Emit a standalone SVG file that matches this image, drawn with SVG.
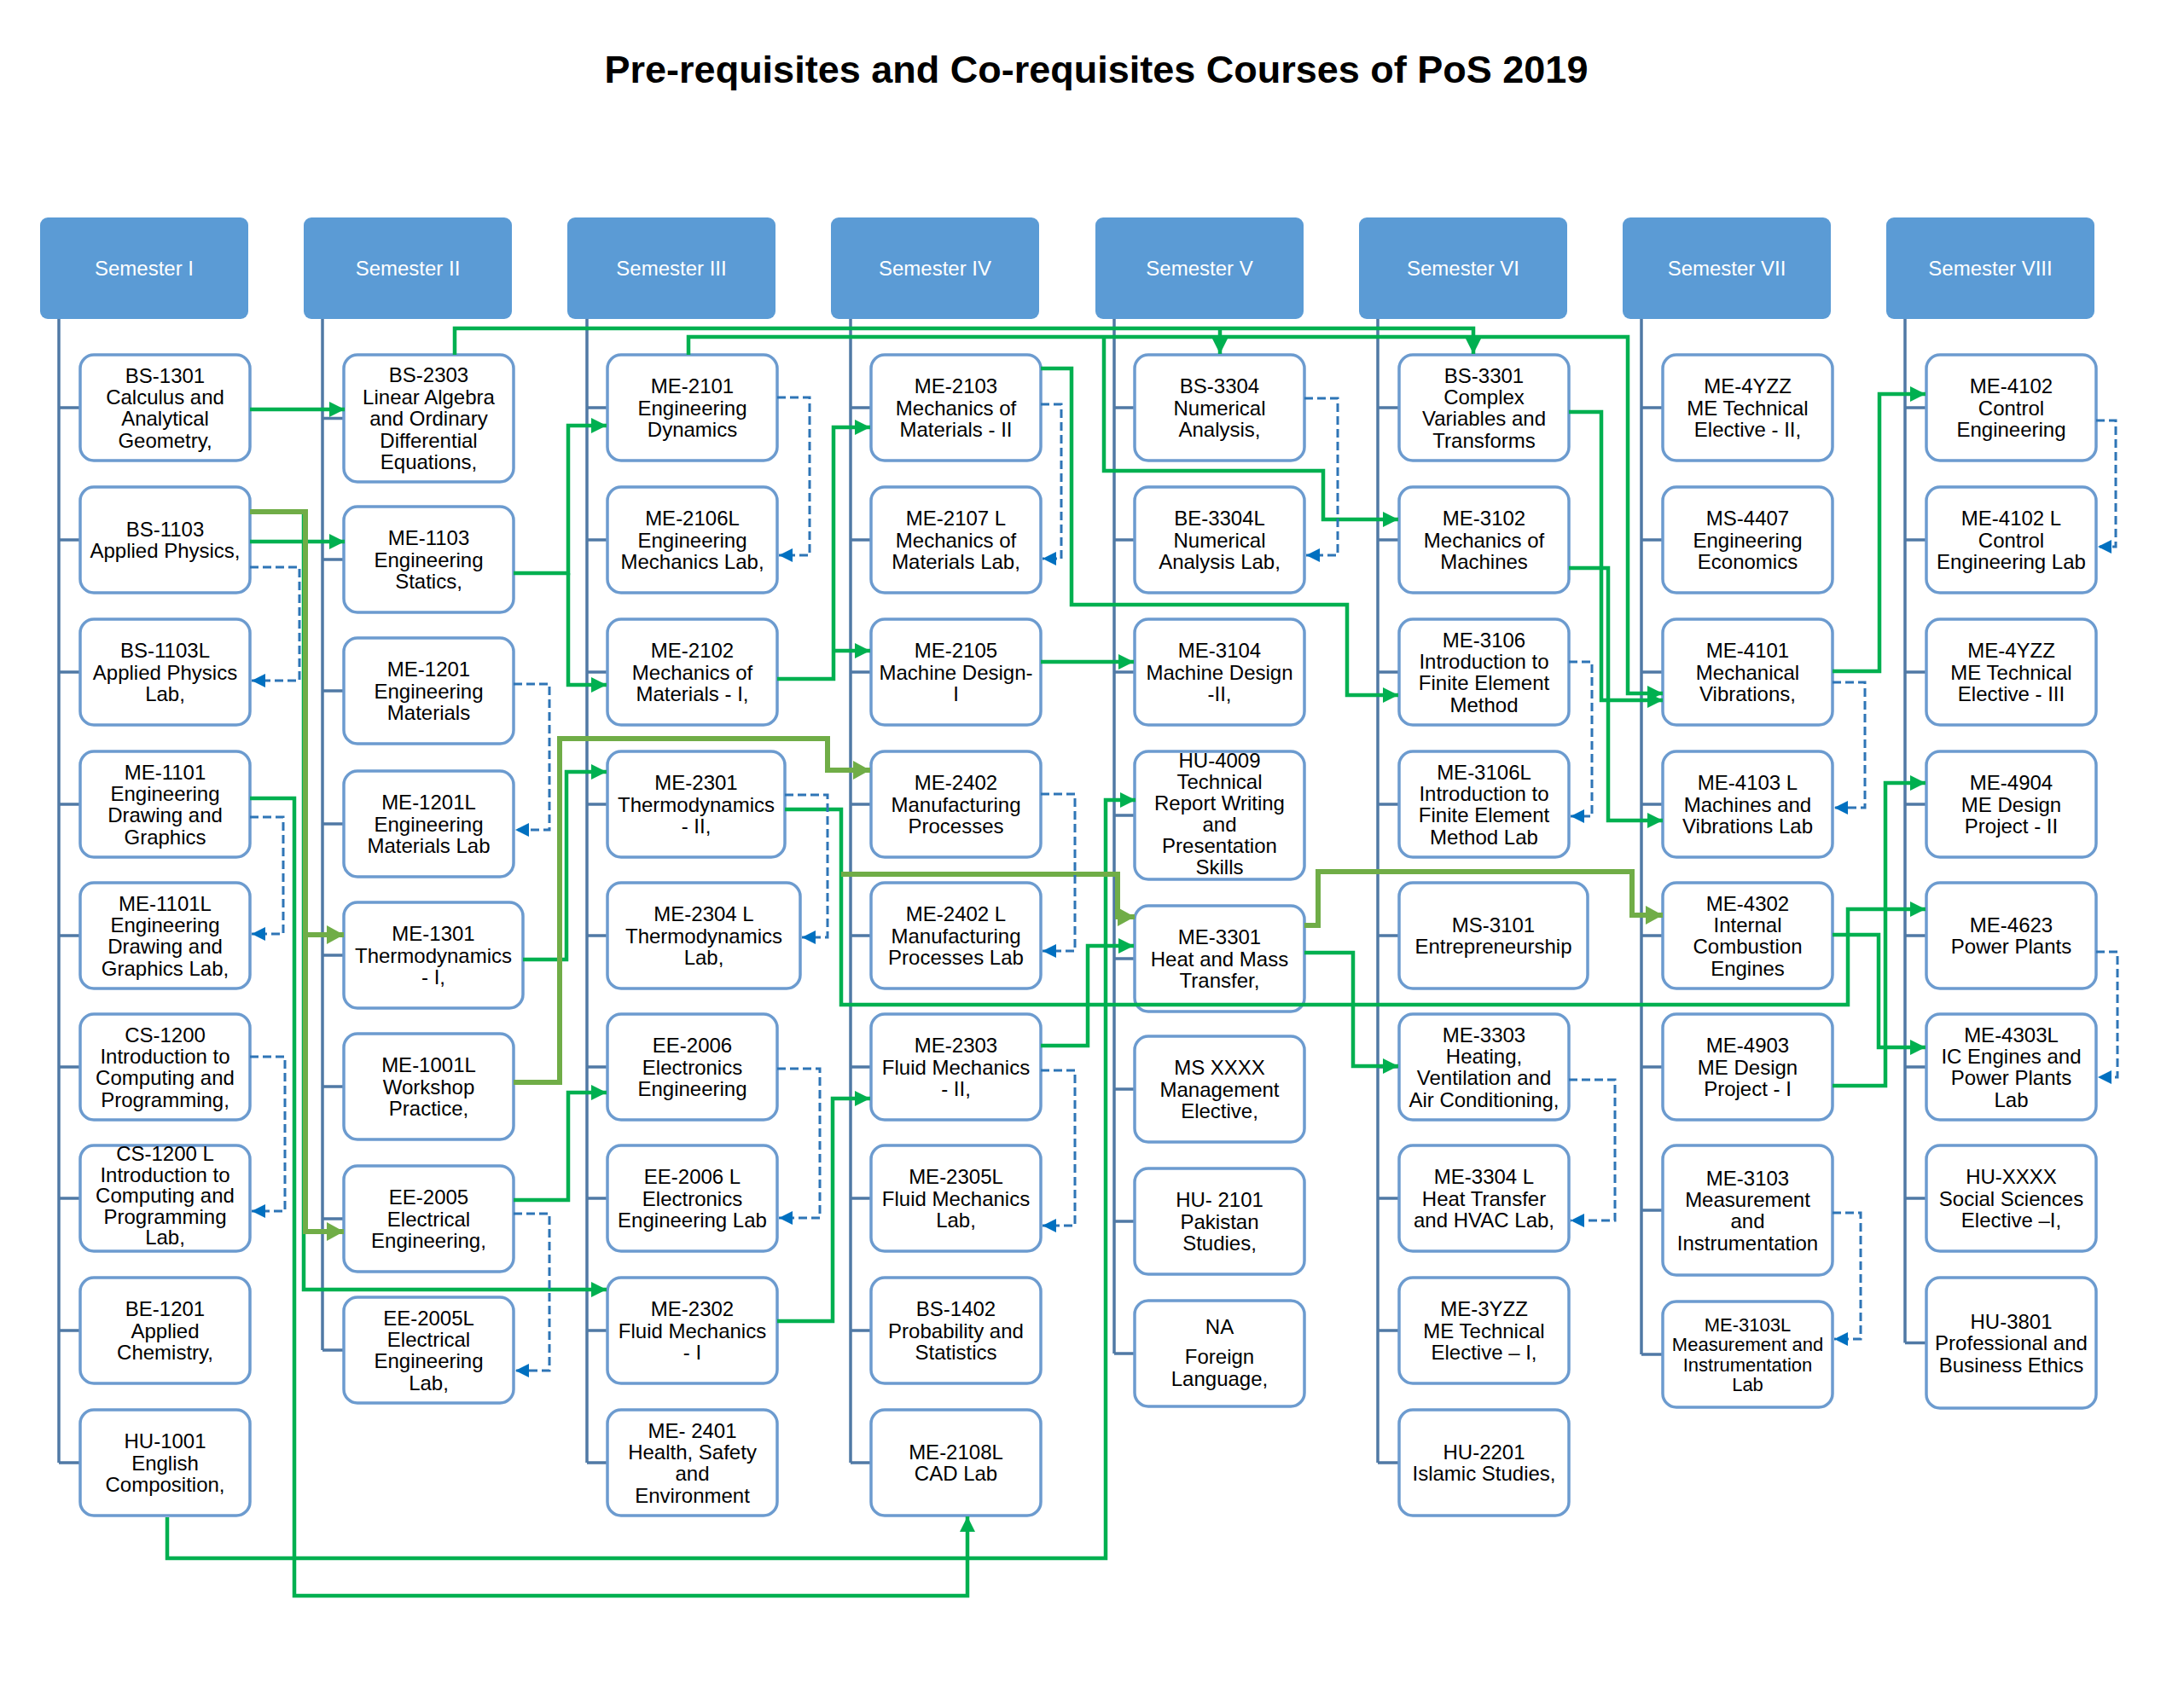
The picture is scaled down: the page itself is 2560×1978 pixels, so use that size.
<svg xmlns="http://www.w3.org/2000/svg" width="2560" height="1978" viewBox="0 0 2560 1978">
<style>
.bg{fill:#fff}
.title{font-family:"Liberation Sans",Arial,sans-serif;font-size:45px;font-weight:bold;fill:#000;text-anchor:middle}
.hdr rect{fill:#5B9BD5}
.hdr text{font-family:"Liberation Sans",Arial,sans-serif;font-size:24px;fill:#fff;text-anchor:middle}
.node rect{fill:#fff;stroke:#6C9BCF;stroke-width:3.5}
.node text{font-family:"Liberation Sans",Arial,sans-serif;font-size:24px;fill:#000;text-anchor:middle}
.node text.sm{font-size:22px}
.spine{stroke:#5079A5;stroke-width:3.5;fill:none}
.g{stroke:#00B050;stroke-width:4.5;fill:none}
.ga{stroke:#00B050;stroke-width:4.5;fill:none;marker-end:url(#ag)}
.o{stroke:#70AD47;stroke-width:6;fill:none}
.oa{stroke:#70AD47;stroke-width:6;fill:none;marker-end:url(#ao)}
.d{stroke:#2E75B6;stroke-width:3;stroke-dasharray:10 5;fill:none;marker-end:url(#ab)}
</style>
<defs>
<marker id="ag" markerUnits="userSpaceOnUse" markerWidth="20" markerHeight="20" refX="18" refY="9" orient="auto"><path d="M0,0 L18,9 L0,18 z" fill="#00B050"/></marker>
<marker id="ao" markerUnits="userSpaceOnUse" markerWidth="24" markerHeight="24" refX="20" refY="11" orient="auto"><path d="M0,0 L20,11 L0,22 z" fill="#70AD47"/></marker>
<marker id="ab" markerUnits="userSpaceOnUse" markerWidth="18" markerHeight="18" refX="16" refY="8" orient="auto"><path d="M0,0 L16,8 L0,16 z" fill="#0070C0"/></marker>
</defs>
<rect class="bg" x="0" y="0" width="2560" height="1978"/>
<text class="title" x="1285" y="97">Pre-requisites and Co-requisites Courses of PoS 2019</text>

<g id="headers">
<g id="h-sem1" class="hdr"><rect x="47" y="255" width="244" height="119" rx="9"/><text x="169" y="323">Semester I</text></g>
<g id="h-sem2" class="hdr"><rect x="356" y="255" width="244" height="119" rx="9"/><text x="478" y="323">Semester II</text></g>
<g id="h-sem3" class="hdr"><rect x="665" y="255" width="244" height="119" rx="9"/><text x="787" y="323">Semester III</text></g>
<g id="h-sem4" class="hdr"><rect x="974" y="255" width="244" height="119" rx="9"/><text x="1096" y="323">Semester IV</text></g>
<g id="h-sem5" class="hdr"><rect x="1284" y="255" width="244" height="119" rx="9"/><text x="1406" y="323">Semester V</text></g>
<g id="h-sem6" class="hdr"><rect x="1593" y="255" width="244" height="119" rx="9"/><text x="1715" y="323">Semester VI</text></g>
<g id="h-sem7" class="hdr"><rect x="1902" y="255" width="244" height="119" rx="9"/><text x="2024" y="323">Semester VII</text></g>
<g id="h-sem8" class="hdr"><rect x="2211" y="255" width="244" height="119" rx="9"/><text x="2333" y="323">Semester VIII</text></g>
</g>

<g id="spines">
<path class="spine" d="M69,374 V1715 M69,478 H94 M69,633 H94 M69,788 H94 M69,943 H94 M69,1097 H94 M69,1251 H94 M69,1405 H94 M69,1560 H94 M69,1715 H94"/>
<path class="spine" d="M378,374 V1583 M378,490.5 H403 M378,656 H403 M378,810 H403 M378,966 H403 M378,1120 H403 M378,1274 H403 M378,1429 H403 M378,1583 H403"/>
<path class="spine" d="M688,374 V1715 M688,478 H712 M688,633 H712 M688,788 H712 M688,943 H712 M688,1097 H712 M688,1251 H712 M688,1405 H712 M688,1560 H712 M688,1715 H712"/>
<path class="spine" d="M997,374 V1715 M997,478 H1021 M997,633 H1021 M997,788 H1021 M997,943 H1021 M997,1097 H1021 M997,1251 H1021 M997,1405 H1021 M997,1560 H1021 M997,1715 H1021"/>
<path class="spine" d="M1306,374 V1587 M1306,478 H1330 M1306,633 H1330 M1306,788 H1330 M1306,956 H1330 M1306,1124 H1330 M1306,1277 H1330 M1306,1432 H1330 M1306,1587 H1330"/>
<path class="spine" d="M1615,374 V1715 M1615,478 H1640 M1615,633 H1640 M1615,788 H1640 M1615,943 H1640 M1615,1097 H1640 M1615,1251 H1640 M1615,1405 H1640 M1615,1560 H1640 M1615,1715 H1640"/>
<path class="spine" d="M1924,374 V1588 M1924,478 H1949 M1924,633 H1949 M1924,788 H1949 M1924,943 H1949 M1924,1097 H1949 M1924,1251 H1949 M1924,1419 H1949 M1924,1588 H1949"/>
<path class="spine" d="M2233,374 V1574.5 M2233,478 H2258 M2233,633 H2258 M2233,788 H2258 M2233,943 H2258 M2233,1097 H2258 M2233,1251 H2258 M2233,1405 H2258 M2233,1574.5 H2258"/>
</g>

<g id="nodes">
<!-- Semester I -->
<g id="n-bs1301" class="node"><rect x="94" y="416" width="199" height="124" rx="16"/><text x="193.5" y="448.5"><tspan x="193.5">BS-1301</tspan><tspan x="193.5" dy="25.4">Calculus and</tspan><tspan x="193.5" dy="25.4">Analytical</tspan><tspan x="193.5" dy="25.4">Geometry,</tspan></text></g>
<g id="n-bs1103" class="node"><rect x="94" y="571" width="199" height="124" rx="16"/><text x="193.5" y="628.9"><tspan x="193.5">BS-1103</tspan><tspan x="193.5" dy="25.4">Applied Physics,</tspan></text></g>
<g id="n-bs1103l" class="node"><rect x="94" y="726" width="199" height="124" rx="16"/><text x="193.5" y="771.2"><tspan x="193.5">BS-1103L</tspan><tspan x="193.5" dy="25.4">Applied Physics</tspan><tspan x="193.5" dy="25.4">Lab,</tspan></text></g>
<g id="n-me1101" class="node"><rect x="94" y="881" width="199" height="124" rx="16"/><text x="193.5" y="913.5"><tspan x="193.5">ME-1101</tspan><tspan x="193.5" dy="25.4">Engineering</tspan><tspan x="193.5" dy="25.4">Drawing and</tspan><tspan x="193.5" dy="25.4">Graphics</tspan></text></g>
<g id="n-me1101l" class="node"><rect x="94" y="1035" width="199" height="124" rx="16"/><text x="193.5" y="1067.5"><tspan x="193.5">ME-1101L</tspan><tspan x="193.5" dy="25.4">Engineering</tspan><tspan x="193.5" dy="25.4">Drawing and</tspan><tspan x="193.5" dy="25.4">Graphics Lab,</tspan></text></g>
<g id="n-cs1200" class="node"><rect x="94" y="1189" width="199" height="124" rx="16"/><text x="193.5" y="1221.5"><tspan x="193.5">CS-1200</tspan><tspan x="193.5" dy="25.4">Introduction to</tspan><tspan x="193.5" dy="25.4">Computing and</tspan><tspan x="193.5" dy="25.4">Programming,</tspan></text></g>
<g id="n-cs1200l" class="node"><rect x="94" y="1343" width="199" height="124" rx="16"/><text x="193.5" y="1361"><tspan x="193.5">CS-1200 L</tspan><tspan x="193.5" dy="24.6">Introduction to</tspan><tspan x="193.5" dy="24.6">Computing and</tspan><tspan x="193.5" dy="24.6">Programming</tspan><tspan x="193.5" dy="24.6">Lab,</tspan></text></g>
<g id="n-be1201" class="node"><rect x="94" y="1498" width="199" height="124" rx="16"/><text x="193.5" y="1543.2"><tspan x="193.5">BE-1201</tspan><tspan x="193.5" dy="25.4">Applied</tspan><tspan x="193.5" dy="25.4">Chemistry,</tspan></text></g>
<g id="n-hu1001" class="node"><rect x="94" y="1653" width="199" height="124" rx="16"/><text x="193.5" y="1698.2"><tspan x="193.5">HU-1001</tspan><tspan x="193.5" dy="25.4">English</tspan><tspan x="193.5" dy="25.4">Composition,</tspan></text></g>
<!-- Semester II -->
<g id="n-bs2303" class="node"><rect x="403" y="416" width="199" height="149" rx="16"/><text x="502.5" y="448.3"><tspan x="502.5">BS-2303</tspan><tspan x="502.5" dy="25.4">Linear Algebra</tspan><tspan x="502.5" dy="25.4">and Ordinary</tspan><tspan x="502.5" dy="25.4">Differential</tspan><tspan x="502.5" dy="25.4">Equations,</tspan></text></g>
<g id="n-me1103" class="node"><rect x="403" y="594" width="199" height="124" rx="16"/><text x="502.5" y="639.2"><tspan x="502.5">ME-1103</tspan><tspan x="502.5" dy="25.4">Engineering</tspan><tspan x="502.5" dy="25.4">Statics,</tspan></text></g>
<g id="n-me1201" class="node"><rect x="403" y="748" width="199" height="124" rx="16"/><text x="502.5" y="793.2"><tspan x="502.5">ME-1201</tspan><tspan x="502.5" dy="25.4">Engineering</tspan><tspan x="502.5" dy="25.4">Materials</tspan></text></g>
<g id="n-me1201l" class="node"><rect x="403" y="904" width="199" height="124" rx="16"/><text x="502.5" y="949.2"><tspan x="502.5">ME-1201L</tspan><tspan x="502.5" dy="25.4">Engineering</tspan><tspan x="502.5" dy="25.4">Materials Lab</tspan></text></g>
<g id="n-me1301" class="node"><rect x="403" y="1058" width="210" height="124" rx="16"/><text x="508" y="1103.2"><tspan x="508">ME-1301</tspan><tspan x="508" dy="25.4">Thermodynamics</tspan><tspan x="508" dy="25.4">- I,</tspan></text></g>
<g id="n-me1001l" class="node"><rect x="403" y="1212" width="199" height="124" rx="16"/><text x="502.5" y="1257.2"><tspan x="502.5">ME-1001L</tspan><tspan x="502.5" dy="25.4">Workshop</tspan><tspan x="502.5" dy="25.4">Practice,</tspan></text></g>
<g id="n-ee2005" class="node"><rect x="403" y="1367" width="199" height="124" rx="16"/><text x="502.5" y="1412.2"><tspan x="502.5">EE-2005</tspan><tspan x="502.5" dy="25.4">Electrical</tspan><tspan x="502.5" dy="25.4">Engineering,</tspan></text></g>
<g id="n-ee2005l" class="node"><rect x="403" y="1521" width="199" height="124" rx="16"/><text x="502.5" y="1553.5"><tspan x="502.5">EE-2005L</tspan><tspan x="502.5" dy="25.4">Electrical</tspan><tspan x="502.5" dy="25.4">Engineering</tspan><tspan x="502.5" dy="25.4">Lab,</tspan></text></g>
<!-- Semester III -->
<g id="n-me2101" class="node"><rect x="712" y="416" width="199" height="124" rx="16"/><text x="811.5" y="461.2"><tspan x="811.5">ME-2101</tspan><tspan x="811.5" dy="25.4">Engineering</tspan><tspan x="811.5" dy="25.4">Dynamics</tspan></text></g>
<g id="n-me2106l" class="node"><rect x="712" y="571" width="199" height="124" rx="16"/><text x="811.5" y="616.2"><tspan x="811.5">ME-2106L</tspan><tspan x="811.5" dy="25.4">Engineering</tspan><tspan x="811.5" dy="25.4">Mechanics Lab,</tspan></text></g>
<g id="n-me2102" class="node"><rect x="712" y="726" width="199" height="124" rx="16"/><text x="811.5" y="771.2"><tspan x="811.5">ME-2102</tspan><tspan x="811.5" dy="25.4">Mechanics of</tspan><tspan x="811.5" dy="25.4">Materials - I,</tspan></text></g>
<g id="n-me2301" class="node"><rect x="712" y="881" width="208" height="124" rx="16"/><text x="816" y="926.2"><tspan x="816">ME-2301</tspan><tspan x="816" dy="25.4">Thermodynamics</tspan><tspan x="816" dy="25.4">- II,</tspan></text></g>
<g id="n-me2304l" class="node"><rect x="712" y="1035" width="226" height="124" rx="16"/><text x="825" y="1080.2"><tspan x="825">ME-2304 L</tspan><tspan x="825" dy="25.4">Thermodynamics</tspan><tspan x="825" dy="25.4">Lab,</tspan></text></g>
<g id="n-ee2006" class="node"><rect x="712" y="1189" width="199" height="124" rx="16"/><text x="811.5" y="1234.2"><tspan x="811.5">EE-2006</tspan><tspan x="811.5" dy="25.4">Electronics</tspan><tspan x="811.5" dy="25.4">Engineering</tspan></text></g>
<g id="n-ee2006l" class="node"><rect x="712" y="1343" width="199" height="124" rx="16"/><text x="811.5" y="1388.2"><tspan x="811.5">EE-2006 L</tspan><tspan x="811.5" dy="25.4">Electronics</tspan><tspan x="811.5" dy="25.4">Engineering Lab</tspan></text></g>
<g id="n-me2302" class="node"><rect x="712" y="1498" width="199" height="124" rx="16"/><text x="811.5" y="1543.2"><tspan x="811.5">ME-2302</tspan><tspan x="811.5" dy="25.4">Fluid Mechanics</tspan><tspan x="811.5" dy="25.4">- I</tspan></text></g>
<g id="n-me2401" class="node"><rect x="712" y="1653" width="199" height="124" rx="16"/><text x="811.5" y="1685.5"><tspan x="811.5">ME- 2401</tspan><tspan x="811.5" dy="25.4">Health, Safety</tspan><tspan x="811.5" dy="25.4">and</tspan><tspan x="811.5" dy="25.4">Environment</tspan></text></g>
<!-- Semester IV -->
<g id="n-me2103" class="node"><rect x="1021" y="416" width="199" height="124" rx="16"/><text x="1120.5" y="461.2"><tspan x="1120.5">ME-2103</tspan><tspan x="1120.5" dy="25.4">Mechanics of</tspan><tspan x="1120.5" dy="25.4">Materials - II</tspan></text></g>
<g id="n-me2107l" class="node"><rect x="1021" y="571" width="199" height="124" rx="16"/><text x="1120.5" y="616.2"><tspan x="1120.5">ME-2107 L</tspan><tspan x="1120.5" dy="25.4">Mechanics of</tspan><tspan x="1120.5" dy="25.4">Materials Lab,</tspan></text></g>
<g id="n-me2105" class="node"><rect x="1021" y="726" width="199" height="124" rx="16"/><text x="1120.5" y="771.2"><tspan x="1120.5">ME-2105</tspan><tspan x="1120.5" dy="25.4">Machine Design-</tspan><tspan x="1120.5" dy="25.4">I</tspan></text></g>
<g id="n-me2402" class="node"><rect x="1021" y="881" width="199" height="124" rx="16"/><text x="1120.5" y="926.2"><tspan x="1120.5">ME-2402</tspan><tspan x="1120.5" dy="25.4">Manufacturing</tspan><tspan x="1120.5" dy="25.4">Processes</tspan></text></g>
<g id="n-me2402l" class="node"><rect x="1021" y="1035" width="199" height="124" rx="16"/><text x="1120.5" y="1080.2"><tspan x="1120.5">ME-2402 L</tspan><tspan x="1120.5" dy="25.4">Manufacturing</tspan><tspan x="1120.5" dy="25.4">Processes Lab</tspan></text></g>
<g id="n-me2303" class="node"><rect x="1021" y="1189" width="199" height="124" rx="16"/><text x="1120.5" y="1234.2"><tspan x="1120.5">ME-2303</tspan><tspan x="1120.5" dy="25.4">Fluid Mechanics</tspan><tspan x="1120.5" dy="25.4">- II,</tspan></text></g>
<g id="n-me2305l" class="node"><rect x="1021" y="1343" width="199" height="124" rx="16"/><text x="1120.5" y="1388.2"><tspan x="1120.5">ME-2305L</tspan><tspan x="1120.5" dy="25.4">Fluid Mechanics</tspan><tspan x="1120.5" dy="25.4">Lab,</tspan></text></g>
<g id="n-bs1402" class="node"><rect x="1021" y="1498" width="199" height="124" rx="16"/><text x="1120.5" y="1543.2"><tspan x="1120.5">BS-1402</tspan><tspan x="1120.5" dy="25.4">Probability and</tspan><tspan x="1120.5" dy="25.4">Statistics</tspan></text></g>
<g id="n-me2108l" class="node"><rect x="1021" y="1653" width="199" height="124" rx="16"/><text x="1120.5" y="1710.9"><tspan x="1120.5">ME-2108L</tspan><tspan x="1120.5" dy="25.4">CAD Lab</tspan></text></g>
<!-- Semester V -->
<g id="n-bs3304" class="node"><rect x="1330" y="416" width="199" height="124" rx="16"/><text x="1429.5" y="461.2"><tspan x="1429.5">BS-3304</tspan><tspan x="1429.5" dy="25.4">Numerical</tspan><tspan x="1429.5" dy="25.4">Analysis,</tspan></text></g>
<g id="n-be3304l" class="node"><rect x="1330" y="571" width="199" height="124" rx="16"/><text x="1429.5" y="616.2"><tspan x="1429.5">BE-3304L</tspan><tspan x="1429.5" dy="25.4">Numerical</tspan><tspan x="1429.5" dy="25.4">Analysis Lab,</tspan></text></g>
<g id="n-me3104" class="node"><rect x="1330" y="726" width="199" height="124" rx="16"/><text x="1429.5" y="771.2"><tspan x="1429.5">ME-3104</tspan><tspan x="1429.5" dy="25.4">Machine Design</tspan><tspan x="1429.5" dy="25.4">-II,</tspan></text></g>
<g id="n-hu4009" class="node"><rect x="1330" y="881" width="199" height="150" rx="16"/><text x="1429.5" y="900"><tspan x="1429.5">HU-4009</tspan><tspan x="1429.5" dy="25">Technical</tspan><tspan x="1429.5" dy="25">Report Writing</tspan><tspan x="1429.5" dy="25">and</tspan><tspan x="1429.5" dy="25">Presentation</tspan><tspan x="1429.5" dy="25">Skills</tspan></text></g>
<g id="n-me3301" class="node"><rect x="1330" y="1062" width="199" height="124" rx="16"/><text x="1429.5" y="1107.2"><tspan x="1429.5">ME-3301</tspan><tspan x="1429.5" dy="25.4">Heat and Mass</tspan><tspan x="1429.5" dy="25.4">Transfer,</tspan></text></g>
<g id="n-msxxxx" class="node"><rect x="1330" y="1215" width="199" height="124" rx="16"/><text x="1429.5" y="1260.2"><tspan x="1429.5">MS XXXX</tspan><tspan x="1429.5" dy="25.4">Management</tspan><tspan x="1429.5" dy="25.4">Elective,</tspan></text></g>
<g id="n-hu2101" class="node"><rect x="1330" y="1370" width="199" height="124" rx="16"/><text x="1429.5" y="1415.2"><tspan x="1429.5">HU- 2101</tspan><tspan x="1429.5" dy="25.4">Pakistan</tspan><tspan x="1429.5" dy="25.4">Studies,</tspan></text></g>
<g id="n-na" class="node"><rect x="1330" y="1525" width="199" height="124" rx="16"/><text x="1429.5" y="1564"><tspan x="1429.5">NA</tspan><tspan x="1429.5" dy="35">Foreign</tspan><tspan x="1429.5" dy="26">Language,</tspan></text></g>
<!-- Semester VI -->
<g id="n-bs3301" class="node"><rect x="1640" y="416" width="199" height="124" rx="16"/><text x="1739.5" y="448.5"><tspan x="1739.5">BS-3301</tspan><tspan x="1739.5" dy="25.4">Complex</tspan><tspan x="1739.5" dy="25.4">Variables and</tspan><tspan x="1739.5" dy="25.4">Transforms</tspan></text></g>
<g id="n-me3102" class="node"><rect x="1640" y="571" width="199" height="124" rx="16"/><text x="1739.5" y="616.2"><tspan x="1739.5">ME-3102</tspan><tspan x="1739.5" dy="25.4">Mechanics of</tspan><tspan x="1739.5" dy="25.4">Machines</tspan></text></g>
<g id="n-me3106" class="node"><rect x="1640" y="726" width="199" height="124" rx="16"/><text x="1739.5" y="758.5"><tspan x="1739.5">ME-3106</tspan><tspan x="1739.5" dy="25.4">Introduction to</tspan><tspan x="1739.5" dy="25.4">Finite Element</tspan><tspan x="1739.5" dy="25.4">Method</tspan></text></g>
<g id="n-me3106l" class="node"><rect x="1640" y="881" width="199" height="124" rx="16"/><text x="1739.5" y="913.5"><tspan x="1739.5">ME-3106L</tspan><tspan x="1739.5" dy="25.4">Introduction to</tspan><tspan x="1739.5" dy="25.4">Finite Element</tspan><tspan x="1739.5" dy="25.4">Method Lab</tspan></text></g>
<g id="n-ms3101" class="node"><rect x="1640" y="1035" width="221" height="124" rx="16"/><text x="1750.5" y="1092.9"><tspan x="1750.5">MS-3101</tspan><tspan x="1750.5" dy="25.4">Entrepreneurship</tspan></text></g>
<g id="n-me3303" class="node"><rect x="1640" y="1189" width="199" height="124" rx="16"/><text x="1739.5" y="1221.5"><tspan x="1739.5">ME-3303</tspan><tspan x="1739.5" dy="25.4">Heating,</tspan><tspan x="1739.5" dy="25.4">Ventilation and</tspan><tspan x="1739.5" dy="25.4">Air Conditioning,</tspan></text></g>
<g id="n-me3304l" class="node"><rect x="1640" y="1343" width="199" height="124" rx="16"/><text x="1739.5" y="1388.2"><tspan x="1739.5">ME-3304 L</tspan><tspan x="1739.5" dy="25.4">Heat Transfer</tspan><tspan x="1739.5" dy="25.4">and HVAC Lab,</tspan></text></g>
<g id="n-me3yzz" class="node"><rect x="1640" y="1498" width="199" height="124" rx="16"/><text x="1739.5" y="1543.2"><tspan x="1739.5">ME-3YZZ</tspan><tspan x="1739.5" dy="25.4">ME Technical</tspan><tspan x="1739.5" dy="25.4">Elective – I,</tspan></text></g>
<g id="n-hu2201" class="node"><rect x="1640" y="1653" width="199" height="124" rx="16"/><text x="1739.5" y="1710.9"><tspan x="1739.5">HU-2201</tspan><tspan x="1739.5" dy="25.4">Islamic Studies,</tspan></text></g>
<!-- Semester VII -->
<g id="n-me4yzz-2" class="node"><rect x="1949" y="416" width="199" height="124" rx="16"/><text x="2048.5" y="461.2"><tspan x="2048.5">ME-4YZZ</tspan><tspan x="2048.5" dy="25.4">ME Technical</tspan><tspan x="2048.5" dy="25.4">Elective - II,</tspan></text></g>
<g id="n-ms4407" class="node"><rect x="1949" y="571" width="199" height="124" rx="16"/><text x="2048.5" y="616.2"><tspan x="2048.5">MS-4407</tspan><tspan x="2048.5" dy="25.4">Engineering</tspan><tspan x="2048.5" dy="25.4">Economics</tspan></text></g>
<g id="n-me4101" class="node"><rect x="1949" y="726" width="199" height="124" rx="16"/><text x="2048.5" y="771.2"><tspan x="2048.5">ME-4101</tspan><tspan x="2048.5" dy="25.4">Mechanical</tspan><tspan x="2048.5" dy="25.4">Vibrations,</tspan></text></g>
<g id="n-me4103l" class="node"><rect x="1949" y="881" width="199" height="124" rx="16"/><text x="2048.5" y="926.2"><tspan x="2048.5">ME-4103 L</tspan><tspan x="2048.5" dy="25.4">Machines and</tspan><tspan x="2048.5" dy="25.4">Vibrations Lab</tspan></text></g>
<g id="n-me4302" class="node"><rect x="1949" y="1035" width="199" height="124" rx="16"/><text x="2048.5" y="1067.5"><tspan x="2048.5">ME-4302</tspan><tspan x="2048.5" dy="25.4">Internal</tspan><tspan x="2048.5" dy="25.4">Combustion</tspan><tspan x="2048.5" dy="25.4">Engines</tspan></text></g>
<g id="n-me4903" class="node"><rect x="1949" y="1189" width="199" height="124" rx="16"/><text x="2048.5" y="1234.2"><tspan x="2048.5">ME-4903</tspan><tspan x="2048.5" dy="25.4">ME Design</tspan><tspan x="2048.5" dy="25.4">Project - I</tspan></text></g>
<g id="n-me3103" class="node"><rect x="1949" y="1343" width="199" height="152" rx="16"/><text x="2048.5" y="1389.5"><tspan x="2048.5">ME-3103</tspan><tspan x="2048.5" dy="25.4">Measurement</tspan><tspan x="2048.5" dy="25.4">and</tspan><tspan x="2048.5" dy="25.4">Instrumentation</tspan></text></g>
<g id="n-me3103l" class="node"><rect x="1949" y="1526" width="199" height="124" rx="16"/><text class="sm" x="2048.5" y="1560.6"><tspan x="2048.5">ME-3103L</tspan><tspan x="2048.5" dy="23.5">Measurement  and</tspan><tspan x="2048.5" dy="23.5">Instrumentation</tspan><tspan x="2048.5" dy="23.5">Lab</tspan></text></g>
<!-- Semester VIII -->
<g id="n-me4102" class="node"><rect x="2258" y="416" width="199" height="124" rx="16"/><text x="2357.5" y="461.2"><tspan x="2357.5">ME-4102</tspan><tspan x="2357.5" dy="25.4">Control</tspan><tspan x="2357.5" dy="25.4">Engineering</tspan></text></g>
<g id="n-me4102l" class="node"><rect x="2258" y="571" width="199" height="124" rx="16"/><text x="2357.5" y="616.2"><tspan x="2357.5">ME-4102 L</tspan><tspan x="2357.5" dy="25.4">Control</tspan><tspan x="2357.5" dy="25.4">Engineering Lab</tspan></text></g>
<g id="n-me4yzz-3" class="node"><rect x="2258" y="726" width="199" height="124" rx="16"/><text x="2357.5" y="771.2"><tspan x="2357.5">ME-4YZZ</tspan><tspan x="2357.5" dy="25.4">ME Technical</tspan><tspan x="2357.5" dy="25.4">Elective - III</tspan></text></g>
<g id="n-me4904" class="node"><rect x="2258" y="881" width="199" height="124" rx="16"/><text x="2357.5" y="926.2"><tspan x="2357.5">ME-4904</tspan><tspan x="2357.5" dy="25.4">ME Design</tspan><tspan x="2357.5" dy="25.4">Project - II</tspan></text></g>
<g id="n-me4623" class="node"><rect x="2258" y="1035" width="199" height="124" rx="16"/><text x="2357.5" y="1092.9"><tspan x="2357.5">ME-4623</tspan><tspan x="2357.5" dy="25.4">Power Plants</tspan></text></g>
<g id="n-me4303l" class="node"><rect x="2258" y="1189" width="199" height="124" rx="16"/><text x="2357.5" y="1221.5"><tspan x="2357.5">ME-4303L</tspan><tspan x="2357.5" dy="25.4">IC Engines and</tspan><tspan x="2357.5" dy="25.4">Power Plants</tspan><tspan x="2357.5" dy="25.4">Lab</tspan></text></g>
<g id="n-huxxxx" class="node"><rect x="2258" y="1343" width="199" height="124" rx="16"/><text x="2357.5" y="1388.2"><tspan x="2357.5">HU-XXXX</tspan><tspan x="2357.5" dy="25.4">Social Sciences</tspan><tspan x="2357.5" dy="25.4">Elective –I,</tspan></text></g>
<g id="n-hu3801" class="node"><rect x="2258" y="1498" width="199" height="153" rx="16"/><text x="2357.5" y="1557.7"><tspan x="2357.5">HU-3801</tspan><tspan x="2357.5" dy="25.4">Professional and</tspan><tspan x="2357.5" dy="25.4">Business Ethics</tspan></text></g>
</g>

<g id="connectors">
<!-- green prerequisite lines -->
<path class="ga" d="M293,480 H404"/>
<path class="ga" d="M293,635 H404"/>
<path class="ga" d="M293,600 H356 V1512 H711"/>
<path class="ga" d="M293,936 H345 V1871 H1134 V1778"/>
<path class="ga" d="M196,1779 V1827 H1296 V938 H1331"/>
<path class="ga" d="M533,416 V385 H1727 V415"/>
<path class="ga" d="M1430,385 V415"/>
<path class="ga" d="M807,416 V395 H1908 V813 H1949"/>
<path class="ga" d="M1294,395 V552 H1551 V609 H1639"/>
<path class="ga" d="M602,672 H666 V499 H711"/>
<path class="ga" d="M666,672 V803 H711"/>
<path class="ga" d="M613,1125 H664 V905 H711"/>
<path class="ga" d="M602,1407 H666 V1281 H711"/>
<path class="ga" d="M911,796 H977 V501 H1020"/>
<path class="ga" d="M977,763 H1020"/>
<path class="ga" d="M911,1549 H976 V1288 H1020"/>
<path class="ga" d="M920,949 H986 V1178 H2166 V1066 H2257"/>
<path class="ga" d="M1220,432 H1256 V709 H1579 V815 H1639"/>
<path class="ga" d="M1220,776 H1329"/>
<path class="ga" d="M1220,1226 H1275 V1109 H1329"/>
<path class="ga" d="M1529,1117 H1586 V1250 H1639"/>
<path class="ga" d="M1839,483 H1877 V821 H1949"/>
<path class="ga" d="M1839,666 H1885 V962 H1949"/>
<path class="ga" d="M2148,787 H2203 V462 H2257"/>
<path class="ga" d="M2148,1096 H2202 V1228 H2257"/>
<path class="ga" d="M2148,1273 H2210 V918 H2257"/>
<!-- olive lines -->
<path class="oa" d="M293,600 H358 V1444 H403"/>
<path class="oa" d="M358,1096 H403"/>
<path class="oa" d="M602,1269 H656 V866 H970 V903 H1020"/>
<path class="oa" d="M986,1025 H1310 V1075 H1330"/>
<path class="oa" d="M1529,1085 H1545 V1022 H1913 V1073 H1949"/>
<!-- dashed co-requisite lines -->
<path class="d" d="M293,665 H351 V798 H295"/>
<path class="d" d="M293,958 H332 V1095 H295"/>
<path class="d" d="M293,1239 H334 V1420 H295"/>
<path class="d" d="M602,802 H644 V973 H604"/>
<path class="d" d="M602,1423 H644 V1607 H604"/>
<path class="d" d="M911,466 H949 V651 H913"/>
<path class="d" d="M920,932 H970 V1099 H940"/>
<path class="d" d="M911,1253 H961 V1428 H913"/>
<path class="d" d="M1220,474 H1244 V655 H1222"/>
<path class="d" d="M1220,931 H1260 V1115 H1222"/>
<path class="d" d="M1220,1255 H1260 V1437 H1222"/>
<path class="d" d="M1529,467 H1568 V651 H1531"/>
<path class="d" d="M1839,776 H1866 V957 H1841"/>
<path class="d" d="M1839,1266 H1893 V1431 H1841"/>
<path class="d" d="M2148,800 H2186 V947 H2150"/>
<path class="d" d="M2148,1422 H2181 V1570 H2150"/>
<path class="d" d="M2457,493 H2480 V641 H2459"/>
<path class="d" d="M2457,1116 H2482 V1263 H2459"/>
</g>
</svg>
